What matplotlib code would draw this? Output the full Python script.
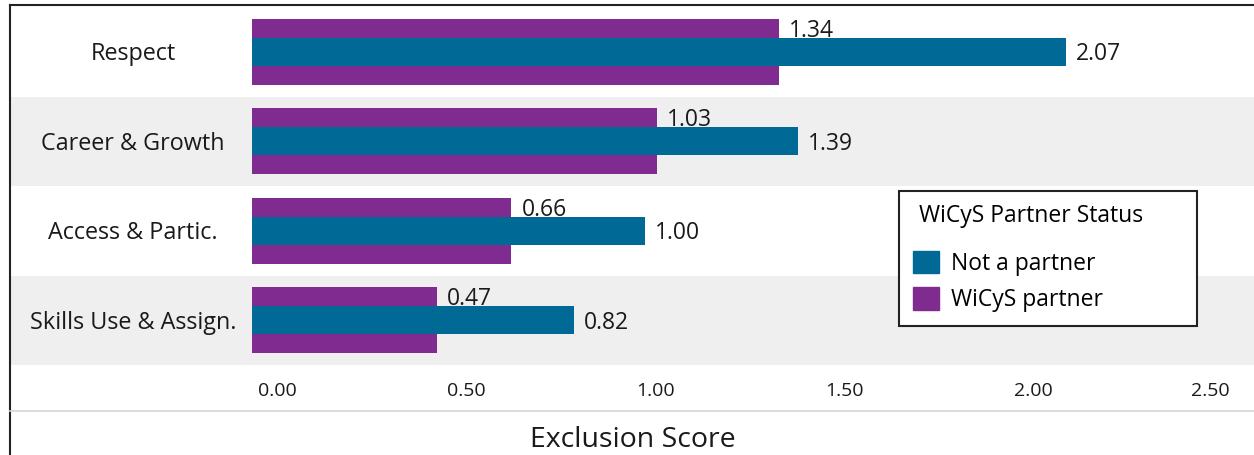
import numpy as np
import matplotlib.pyplot as plt
from matplotlib.patches import Patch
from matplotlib.lines import Line2D

plt.rcParams["font.family"] = ["Open Sans", "DejaVu Sans"]

categories = ["Respect", "Career & Growth", "Access & Partic.", "Skills Use & Assign."]
not_partner = [2.07, 1.39, 1.00, 0.82]
wicys_partner = [1.34, 1.03, 0.66, 0.47]
tick_vals = [0.0, 0.5, 1.0, 1.5, 2.0, 2.5]

teal = "#006996"
purple = "#7f2b8f"
band = "#efefef"
ink = "#1a1a1a"

W, H = 1254, 455
fig = plt.figure(figsize=(W / 100, H / 100), dpi=100)
ax = fig.add_axes([10 / W, 90 / H, 1244 / W, 358 / H])

ppu = 393  # pixels per unit on the bar scale
ax.set_xlim(-242 / ppu, 1002 / ppu)
ax.set_ylim(-0.5, 3.5)
dy = -0.03  # nudge text down so the glyphs sit centred like the original

ys = np.arange(len(categories))[::-1]
for y, name in zip(ys, categories):
    if y % 2 == 0:
        ax.axhspan(y - 0.5, y + 0.5, color=band, lw=0, zorder=0)
    ax.text(-119 / ppu, y + dy, name, ha="center", va="center", fontsize=16.8, color=ink)

ax.barh(ys, wicys_partner, height=0.74, color=purple, zorder=2)
ax.barh(ys, not_partner, height=0.31, color=teal, zorder=3)

for y, a, b in zip(ys, not_partner, wicys_partner):
    ax.text(a + 10 / ppu, y + dy, f"{a:.2f}", va="center", fontsize=16.5, color=ink)
    ax.text(b + 10 / ppu, y + 0.265 + dy, f"{b:.2f}", va="center", fontsize=16.5, color=ink)

# axis labels sit on their own slightly compressed scale in the original
tick_pos = [(v * 378 + 25) / ppu for v in tick_vals]
tick_pos[-1] = 958 / ppu
ax.set_xticks(tick_pos, [f"{v:.2f}" for v in tick_vals])
ax.tick_params(axis="x", length=0, pad=12, labelsize=14, labelcolor=ink)
ax.set_yticks([])
for s in ax.spines.values():
    s.set_visible(False)

fig.text(633 / W, 1 - 440 / H, "Exclusion Score", ha="center", va="center", fontsize=20.5, color=ink)

# outer frame lines
fig.add_artist(Line2D([10 / W, 1], [1 - 5 / H, 1 - 5 / H], color="#222222", lw=1.5))
fig.add_artist(Line2D([10 / W, 10 / W], [0, 1 - 5 / H], color="#222222", lw=1.5))
fig.add_artist(Line2D([10 / W, 1], [1 - 411 / H, 1 - 411 / H], color="#d6d6d6", lw=1.2))

handles = [Patch(color=teal, label="Not a partner"), Patch(color=purple, label="WiCyS partner")]
leg = ax.legend(handles=handles, title=" WiCyS Partner Status", loc="lower left",
                bbox_to_anchor=(899 / W, 1 - 326 / H, 298 / W, 138 / H),
                bbox_transform=fig.transFigure, mode="expand", borderaxespad=0,
                fontsize=16.5, title_fontsize=16.5, alignment="left", fancybox=False,
                framealpha=1, edgecolor="#222222", handlelength=1.15, handleheight=1.15,
                handletextpad=0.5, borderpad=0.6, labelspacing=0.5)
leg._legend_box.sep = 16  # more room under the title
leg.get_frame().set_linewidth(1.5)

fig.savefig("out.png", dpi=100)
